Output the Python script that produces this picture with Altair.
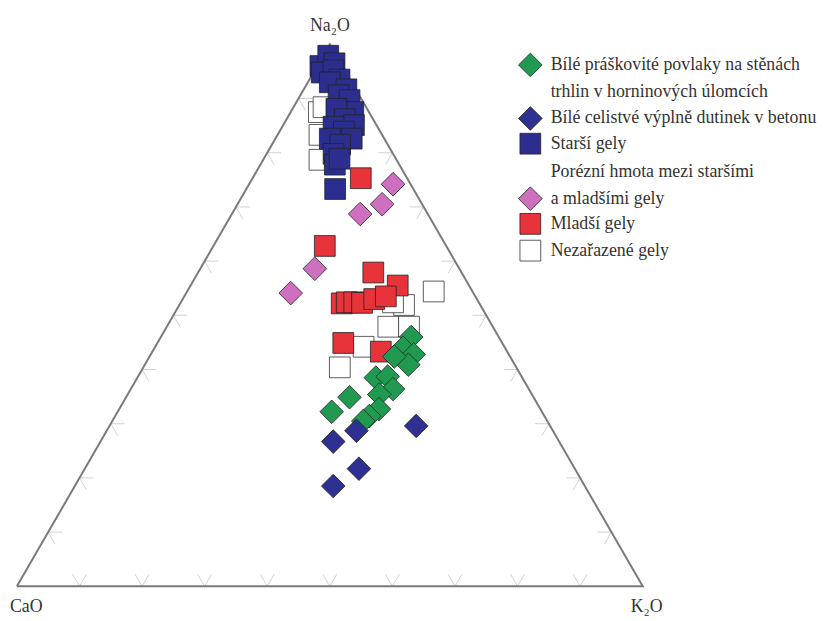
import math
import altair as alt
import pandas as pd

# ---------------- data (Na2O, CaO, K2O in %) ----------------
groups = [
    "Bílé práškovité povlaky na stěnách trhlin v horninových úlomcích",
    "Bílé celistvé výplně dutinek v betonu",
    "Starší gely",
    "Porézní hmota mezi staršími a mladšími gely",
    "Mladší gely",
    "Nezařazené gely",
]
fills = ["#1f9a50", "#2e3092", "#2b2e8e", "#cf6fbf", "#e8333a", "#ffffff"]
strokes = ["#222222", "#222222", "#222222", "#222222", "#222222", "#333333"]
shapes = ["diamond", "diamond", "square", "diamond", "square", "square"]
sizes = [570, 570, 440, 570, 440, 440]

# legend rows: (domain value, label shown, group index or None for a text-only line)
legend_rows = [
    (groups[0], "Bílé práškovité povlaky na stěnách", 0),
    ("trhlin v horninových úlomcích", "trhlin v horninových úlomcích", None),
    (groups[1], groups[1], 1),
    (groups[2], groups[2], 2),
    ("Porézní hmota mezi staršími", "Porézní hmota mezi staršími", None),
    (groups[3], "a mladšími gely", 3),
    (groups[4], groups[4], 4),
    (groups[5], groups[5], 5),
]

green_pts = [
    (46.0, 14.0, 40.0), (44.0, 16.3, 39.7), (42.8, 15.2, 42.0), (40.9, 17.0, 42.1),
    (42.4, 18.5, 39.1), (38.5, 23.4, 38.1), (38.7, 21.4, 39.9), (36.4, 21.7, 41.9),
    (35.4, 24.4, 40.2), (34.9, 29.4, 35.7), (32.2, 33.6, 34.2), (32.7, 25.8, 41.5),
    (31.4, 28.0, 40.6), (30.5, 29.4, 40.1),
]
bluediam_pts = [
    (28.7, 31.4, 39.9), (26.7, 36.1, 37.2), (29.6, 21.4, 49.0),
    (21.7, 34.5, 43.8), (18.5, 40.2, 41.3),
]
older_pts = [
    (96.0, 3.5, 0.5), (97.9, 1.3, 0.8), (96.5, 1.0, 2.5), (94.8, 3.9, 1.3),
    (95.2, 1.8, 3.0), (93.5, 1.7, 4.8), (93.0, 3.5, 3.5), (91.7, 1.5, 6.8),
    (90.6, 3.3, 6.1), (89.7, 2.0, 8.3), (87.5, 2.5, 10.0), (88.1, 4.9, 7.0),
    (86.2, 4.5, 9.3), (85.1, 3.6, 11.3), (84.8, 7.0, 8.2), (83.9, 5.8, 10.3),
    (82.6, 5.2, 12.2), (82.6, 8.7, 8.7), (81.5, 7.6, 10.9), (79.8, 9.5, 10.7),
    (77.8, 10.3, 11.9), (78.9, 9.0, 12.1), (73.3, 12.5, 14.2),
]
porous_pts = [
    (74.2, 2.8, 23.0), (70.5, 6.4, 23.1), (68.7, 10.8, 20.5),
    (58.6, 23.1, 18.3), (54.1, 29.2, 16.7),
]
younger_pts = [
    (75.3, 7.4, 17.3), (62.8, 19.4, 17.8), (57.9, 14.1, 28.0), (55.5, 11.4, 33.1),
    (52.2, 22.0, 25.8), (52.4, 21.1, 26.5), (52.4, 19.9, 27.7), (52.3, 18.7, 29.0),
    (53.0, 16.4, 30.6), (53.5, 14.3, 32.2), (44.9, 25.4, 29.7), (43.3, 20.2, 36.5),
]
unclassified_pts = [
    (87.5, 8.0, 4.5), (88.4, 6.8, 4.8), (83.3, 10.0, 6.7), (78.7, 12.3, 9.0),
    (54.4, 6.2, 39.4), (51.9, 12.2, 35.9), (52.4, 13.7, 33.9), (47.9, 16.7, 35.4),
    (47.9, 13.4, 38.7), (44.2, 22.5, 33.3), (40.4, 28.2, 31.4),
]

vertex_labels = ["CaO", "K₂O", "Na₂O"]
tick_values = [10, 20, 30, 40, 50, 60, 70, 80, 90]

# ---------------- tables ----------------
draw_order = [
    (5, unclassified_pts), (2, older_pts), (4, younger_pts),
    (3, porous_pts), (0, green_pts), (1, bluediam_pts),
]
rows = []
for gi, pts in draw_order:
    for n, c, k in pts:
        rows.append({"group": groups[gi], "Na2O": n, "CaO": c, "K2O": k})
pts_df = pd.DataFrame(rows)
pts_df["idx"] = range(len(pts_df))

tri_df = pd.DataFrame({
    "Na2O": [0, 0, 100, 0], "CaO": [100, 0, 0, 100], "K2O": [0, 100, 0, 0],
    "o": [0, 1, 2, 3],
})
lab_df = pd.DataFrame({
    "label": vertex_labels,
    "Na2O": [0, 0, 100], "CaO": [100, 0, 0], "K2O": [0, 100, 0],
})

d = 2.2
tick_rows = []
for t in tick_values:
    tick_rows.append((0, 100 - t, t, d, 100 - t - d, t))
    tick_rows.append((0, 100 - t, t, d, 100 - t, t - d))
    tick_rows.append((t, 100 - t, 0, t, 100 - t - d, d))
    tick_rows.append((t, 100 - t, 0, t - d, 100 - t, d))
    tick_rows.append((t, 0, 100 - t, t, d, 100 - t - d))
    tick_rows.append((t, 0, 100 - t, t - d, d, 100 - t))
tick_df = pd.DataFrame(tick_rows, columns=["N1", "C1", "K1", "N2", "C2", "K2"])

S3 = math.sqrt(3) / 2
def tx(n, c, k):
    return f"({k} + {n}/2)/({n}+{c}+{k})"
def ty(n, c, k):
    return f"{S3}*{n}/({n}+{c}+{k})"

# plot region mapping: 632 px per unit, origin at page (17, 589)
W, H = 817, 613
x0 = -9 / 632
x1 = x0 + W / 632
y1 = 581 / 632
y0 = y1 - H / 632
xs = alt.Scale(domain=[x0, x1], nice=False, zero=False)
ys = alt.Scale(domain=[y0, y1], nice=False, zero=False)
X = lambda f: alt.X(f, type="quantitative", scale=xs, axis=None)
Y = lambda f: alt.Y(f, type="quantitative", scale=ys, axis=None)

FONT = "Liberation Sans Narrow"

tri = alt.Chart(tri_df).transform_calculate(
    x=tx("datum.Na2O", "datum.CaO", "datum.K2O"),
    y=ty("datum.Na2O", "datum.CaO", "datum.K2O"),
).mark_line(color="#7a7a7a", strokeWidth=2).encode(
    x=X("x"), y=Y("y"), order="o:Q"
)

ticks = alt.Chart(tick_df).transform_calculate(
    xa=tx("datum.N1", "datum.C1", "datum.K1"),
    ya=ty("datum.N1", "datum.C1", "datum.K1"),
    xb=tx("datum.N2", "datum.C2", "datum.K2"),
    yb=ty("datum.N2", "datum.C2", "datum.K2"),
).mark_rule(color="#d0d0d0", strokeWidth=1).encode(
    x=X("xa"), y=Y("ya"), x2="xb:Q", y2="yb:Q"
)

# legend scales: the text-only continuation lines get an invisible symbol
leg_domain = [r[0] for r in legend_rows]
leg_fill = [fills[r[2]] if r[2] is not None else "transparent" for r in legend_rows]
leg_stroke = [strokes[r[2]] if r[2] is not None else "transparent" for r in legend_rows]
leg_shape = [shapes[r[2]] if r[2] is not None else "diamond" for r in legend_rows]
leg_size = [sizes[r[2]] if r[2] is not None else 570 for r in legend_rows]
label_expr = " : ".join(
    f"datum.label == '{dv}' ? '{lab}'" for dv, lab, _ in legend_rows if dv != lab
) + " : datum.label"

legend = alt.Legend(
    orient="none", legendX=515, legendY=42, title=None,
    labelExpr=label_expr, labelFont=FONT, labelFontSize=18,
    labelColor="#333333", labelLimit=400, labelOffset=8,
    symbolStrokeWidth=0.8, rowPadding=-3, gridAlign="all",
)

points = alt.Chart(pts_df).transform_calculate(
    x=tx("datum.Na2O", "datum.CaO", "datum.K2O"),
    y=ty("datum.Na2O", "datum.CaO", "datum.K2O"),
).mark_point(filled=True, opacity=1, strokeWidth=0.8).encode(
    x=X("x"), y=Y("y"),
    color=alt.Color("group:N", scale=alt.Scale(domain=leg_domain, range=leg_fill),
                    legend=legend),
    stroke=alt.Stroke("group:N", scale=alt.Scale(domain=leg_domain, range=leg_stroke),
                      legend=legend),
    shape=alt.Shape("group:N", scale=alt.Scale(domain=leg_domain, range=leg_shape),
                    legend=legend),
    size=alt.Size("group:N",
                  scale=alt.Scale(type="ordinal", domain=leg_domain, range=leg_size),
                  legend=legend),
    order="idx:Q",
)

labbase = alt.Chart(lab_df).transform_calculate(
    x=tx("datum.Na2O", "datum.CaO", "datum.K2O"),
    y=ty("datum.Na2O", "datum.CaO", "datum.K2O"),
)
lab_top = labbase.transform_filter("datum.Na2O == 100").mark_text(
    font=FONT, fontSize=18, color="#333333", align="center",
    baseline="bottom", dy=-9,
).encode(x=X("x"), y=Y("y"), text="label:N")
lab_left = labbase.transform_filter("datum.CaO == 100").mark_text(
    font=FONT, fontSize=18, color="#333333", align="left",
    baseline="top", dx=-7, dy=12,
).encode(x=X("x"), y=Y("y"), text="label:N")
lab_right = labbase.transform_filter("datum.K2O == 100").mark_text(
    font=FONT, fontSize=18, color="#333333", align="center",
    baseline="top", dx=4, dy=12,
).encode(x=X("x"), y=Y("y"), text="label:N")

chart = alt.layer(ticks, tri, points, lab_top, lab_left, lab_right).properties(
    width=W, height=H, autosize=alt.AutoSizeParams(type="none"), padding=0,
    background="white",
).configure_view(stroke=None)

chart.save("out.html", embed_options={"renderer": "svg", "actions": False})
